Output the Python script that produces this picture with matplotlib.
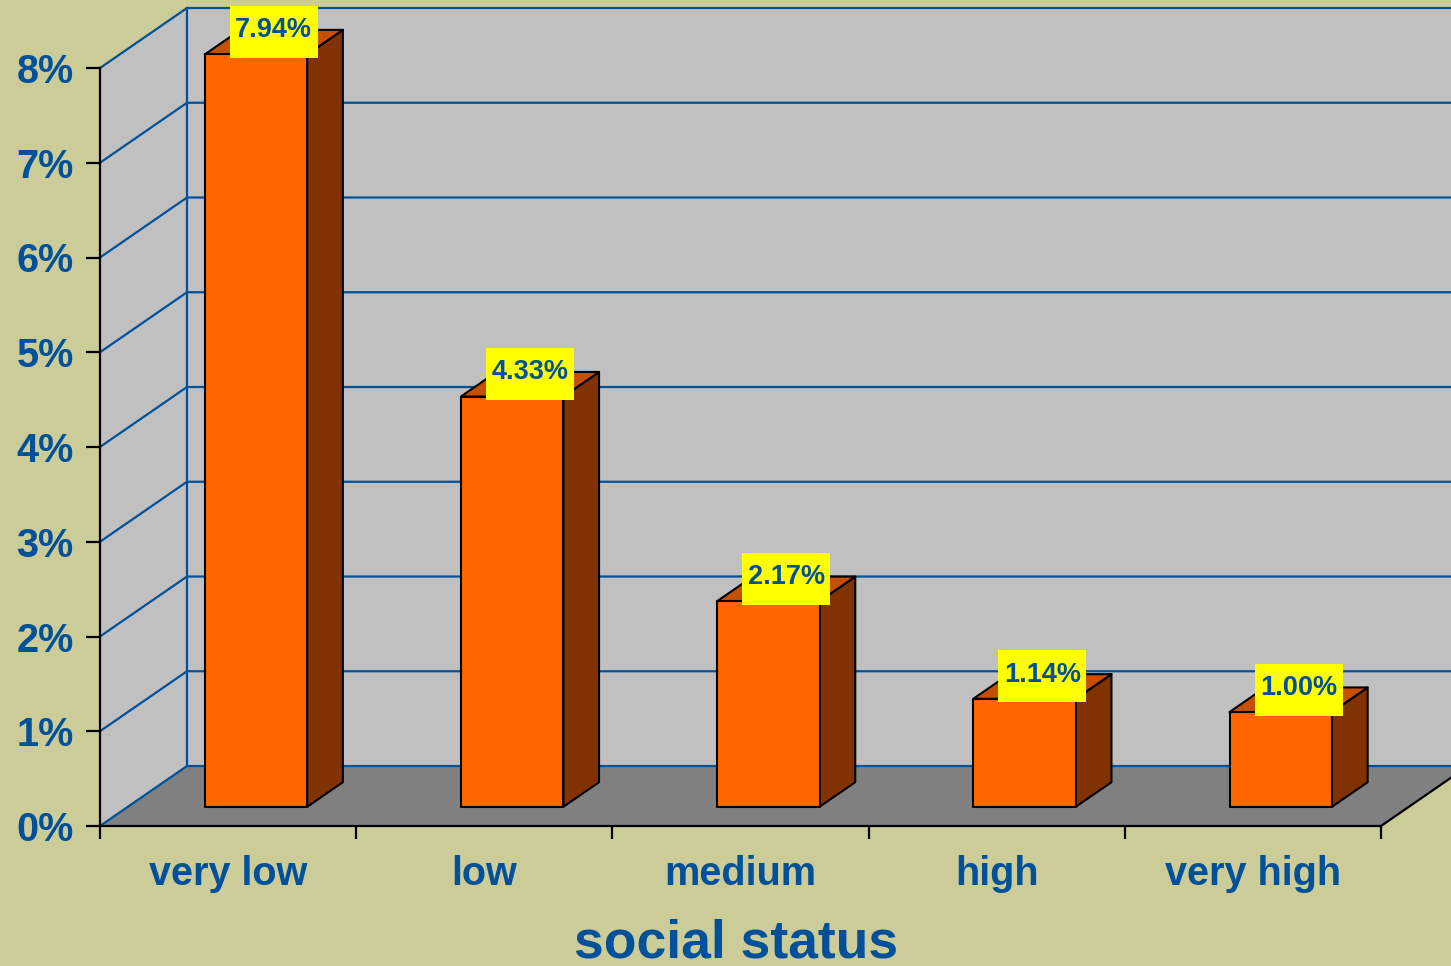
import matplotlib
matplotlib.use("Agg")
import matplotlib.pyplot as plt
from matplotlib.patches import Polygon, Rectangle
from matplotlib.ticker import PercentFormatter
from matplotlib.transforms import ScaledTranslation

categories = ["very low", "low", "medium", "high", "very high"]
values = [7.94, 4.33, 2.17, 1.14, 1.00]
value_labels = ["7.94%", "4.33%", "2.17%", "1.14%", "1.00%"]
y_max = 8

bg = "#CCCC99"
wall = "#C0C0C0"
floor = "#808080"
blue = "#00509A"
front_c = "#FF6600"
side_c = "#803300"
top_c = "#C45000"

# fake 3d: depth d in [0, 1] shifts points right/up
DX, DY = 0.3396, 0.6332
D0, D1 = 0.32, 0.73
BW = 0.4


def proj(x, v, d):
    return (x + d * DX, v + d * DY)


plt.rcParams['font.family'] = ['Liberation Sans', 'DejaVu Sans']
plt.rcParams['font.weight'] = 'bold'

fig = plt.figure(figsize=(14.51, 9.66), dpi=100)
fig.patch.set_facecolor(bg)
ax = fig.add_axes([100 / 1451, 140 / 966, 1281 / 1451, 758 / 966])
ax.set_facecolor("none")
n = len(categories)
ax.set_xlim(0, n)
ax.set_ylim(0, y_max)

# walls and floor
ax.add_patch(Polygon([proj(0, 0, 0), proj(0, 0, 1), proj(0, y_max, 1), proj(0, y_max, 0)],
                     closed=True, fc=wall, ec="none", clip_on=False, zorder=0.5))
ax.add_patch(Polygon([proj(0, 0, 1), proj(n, 0, 1), proj(n, y_max, 1), proj(0, y_max, 1)],
                     closed=True, fc=wall, ec="none", clip_on=False, zorder=0.5))
ax.add_patch(Polygon([proj(0, 0, 0), proj(n, 0, 0), proj(n, 0, 1), proj(0, 0, 1)],
                     closed=True, fc=floor, ec="none", clip_on=False, zorder=0.6))

for k in range(y_max + 1):
    a, b, c = proj(0, k, 0), proj(0, k, 1), proj(n, k, 1)
    ax.plot([a[0], b[0], c[0]], [a[1], b[1], c[1]], color=blue, lw=1.6,
            clip_on=False, zorder=0.7, solid_capstyle="butt")
bl, tl = proj(0, 0, 1), proj(0, y_max, 1)
ax.plot([bl[0], tl[0]], [bl[1], tl[1]], color=blue, lw=1.6, clip_on=False, zorder=0.7)
fr, br = proj(n, 0, 0), proj(n, 0, 1)
ax.plot([fr[0], br[0]], [fr[1], br[1]], color="black", lw=1.6, clip_on=False, zorder=0.8)

# bars
for i, v in enumerate(values):
    x0, x1 = i + 0.5 - BW / 2, i + 0.5 + BW / 2
    front = [proj(x0, 0, D0), proj(x1, 0, D0), proj(x1, v, D0), proj(x0, v, D0)]
    side = [proj(x1, 0, D0), proj(x1, 0, D1), proj(x1, v, D1), proj(x1, v, D0)]
    top = [proj(x0, v, D0), proj(x1, v, D0), proj(x1, v, D1), proj(x0, v, D1)]
    for pts, col in [(side, side_c), (top, top_c), (front, front_c)]:
        ax.add_patch(Polygon(pts, closed=True, fc=col, ec="black", lw=1.5,
                             joinstyle="round", clip_on=False, zorder=2))
    # label box, sized in inches around the top-face centre
    lx, ly = proj(i + 0.5, v, (D0 + D1) / 2)
    box_tr = fig.dpi_scale_trans + ScaledTranslation(lx, ly, ax.transData)
    ax.add_patch(Rectangle((-0.44, -0.16), 0.88, 0.52, transform=box_tr,
                           fc="#FFFF00", ec="none", clip_on=False, zorder=3))
    ax.annotate(value_labels[i], (lx, ly), xytext=(0, 8.5), textcoords="offset points",
                ha="center", va="center", fontsize=19.5, color=blue, fontweight="bold",
                zorder=4, annotation_clip=False)

# axes
for s in ["top", "right"]:
    ax.spines[s].set_visible(False)
for s in ["left", "bottom"]:
    ax.spines[s].set_color("black")
    ax.spines[s].set_linewidth(1.6)
    ax.spines[s].set_zorder(1)

ax.set_yticks(range(y_max + 1))
ax.yaxis.set_major_formatter(PercentFormatter(decimals=0))
ax.tick_params(axis="y", length=10, width=1.6, pad=9, labelsize=28.5, labelcolor=blue)
ax.set_xticks(range(n + 1))
ax.set_xticklabels([])
ax.tick_params(axis="x", which="major", length=9, width=1.6)
ax.set_xticks([i + 0.5 for i in range(n)], minor=True)
ax.set_xticklabels(categories, minor=True)
ax.tick_params(axis="x", which="minor", length=0, pad=21, labelsize=28.5, labelcolor=blue)

fig.text(736 / 1451, 1 - 958 / 966, "social status", ha="center", va="baseline",
         fontsize=38.5, color=blue, fontweight="bold")

fig.savefig("out.png", dpi=100, facecolor=bg)
